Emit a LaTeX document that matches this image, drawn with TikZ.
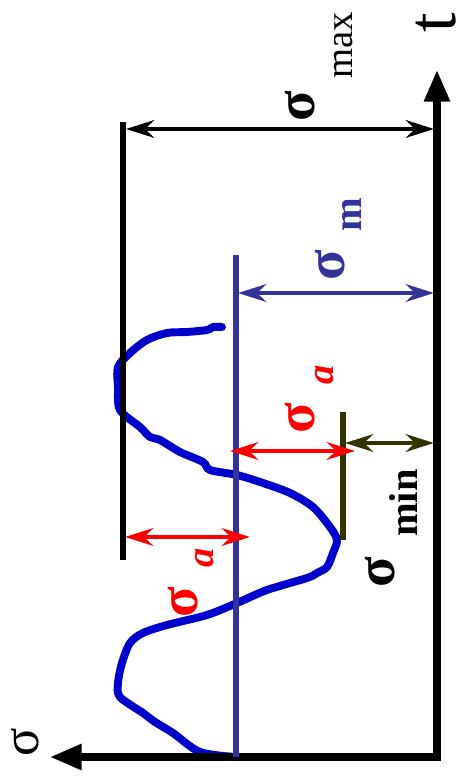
\documentclass[tikz,border=0pt]{standalone}
\usepackage{fontspec}
\setmainfont{Liberation Serif}
\usetikzlibrary{arrows.meta}

\definecolor{wave}{HTML}{0000CC}
\definecolor{meanblue}{HTML}{333399}
\definecolor{minolive}{HTML}{333300}

\begin{document}
\begin{tikzpicture}[x=0.02cm, y=0.02cm, rotate=90, transform shape,
  axis/.style={line width=4pt, line cap=rect, -{Triangle[length=18pt, width=14pt]}},
  level/.style={line width=3.2pt},
  dim/.style={line width=2.6pt, {Stealth[length=16pt, width=10pt]}-{Stealth[length=16pt, width=10pt]}},
  sig/.style={font=\fontsize{32}{32}\selectfont\bfseries},
  sub/.style={font=\fontsize{23}{23}\selectfont\bfseries},
  subit/.style={font=\fontsize{22}{22}\selectfont\bfseries\itshape}]
  \useasboundingbox (-23,-24) rectangle (757,437);

  % axes
  \coordinate (O) at (0,0);
  \coordinate (tend) at (687,0);
  \coordinate (send) at (0,387);
  \node[font=\fontsize{40}{40}\selectfont, inner sep=0pt] (tlabel) at (734,1) {t};
  \node[font=\fontsize{30}{30}\selectfont, inner sep=0pt] (slabel) at (15,412) {σ};

  % signal
  \draw[wave, line width=4.5pt, line join=round, line cap=round]
    plot[smooth, tension=0.5] coordinates {
      (0,201) (5,237) (24,264) (35,282) (44,294) (60,317) (74,319)
      (94,315) (114,307) (124,294) (132,270) (142,230) (154,200)
      (167,170) (179,130) (184,120) (190,110) (204,104) (217,100)
      (230,107) (250,124) (264,147) (274,174) (282,200) (287,227)
      (295,234) (305,257) (317,277) (320,287) (330,297) (347,317)
      (370,319) (390,319) (404,307) (417,290) (424,270) (425,250)
      (427,230) (430,224) (430,215)};

  \draw[axis] (O) -- (tend);
  \draw[axis] (O) -- (send);

  % sigma max
  \coordinate (maxlo) at (197,314);
  \coordinate (maxhi) at (635,314);
  \draw[level] (maxlo) -- (maxhi);
  \draw[dim] (628,311) -- (628,3);
  \node[sig] (smax) at (651,137) {σ};
  \node[font=\fontsize{22}{22}\selectfont] (smaxsub) at (712,93) {max};

  % sigma m
  \coordinate (meanlo) at (0,201);
  \coordinate (meanhi) at (502,201);
  \draw[level, meanblue] (meanlo) -- (meanhi);
  \draw[dim, meanblue] (464,199) -- (464,3);
  \node[sig, meanblue] (sm) at (492,107) {σ};
  \node[sub, meanblue] (smsub) at (542,85) {m};

  % sigma min
  \coordinate (minlo) at (217,94);
  \coordinate (minhi) at (345,94);
  \draw[level, minolive] (minlo) -- (minhi);
  \draw[dim, minolive] (314,92) -- (314,3);
  \node[sig] (smin) at (185,57) {σ};
  \node[sub] (sminsub) at (254,34) {min};

  % sigma a
  \draw[dim, red] (306,207) -- (306,82);
  \node[sig, red] (sa1) at (339,137) {σ};
  \node[subit, red] (sa1sub) at (382,112) {a};
  \draw[dim, red] (220,312) -- (220,187);
  \node[sig, red] (sa2) at (155,254) {σ};
  \node[subit, red] (sa2sub) at (199,232) {a};
\end{tikzpicture}
\end{document}
